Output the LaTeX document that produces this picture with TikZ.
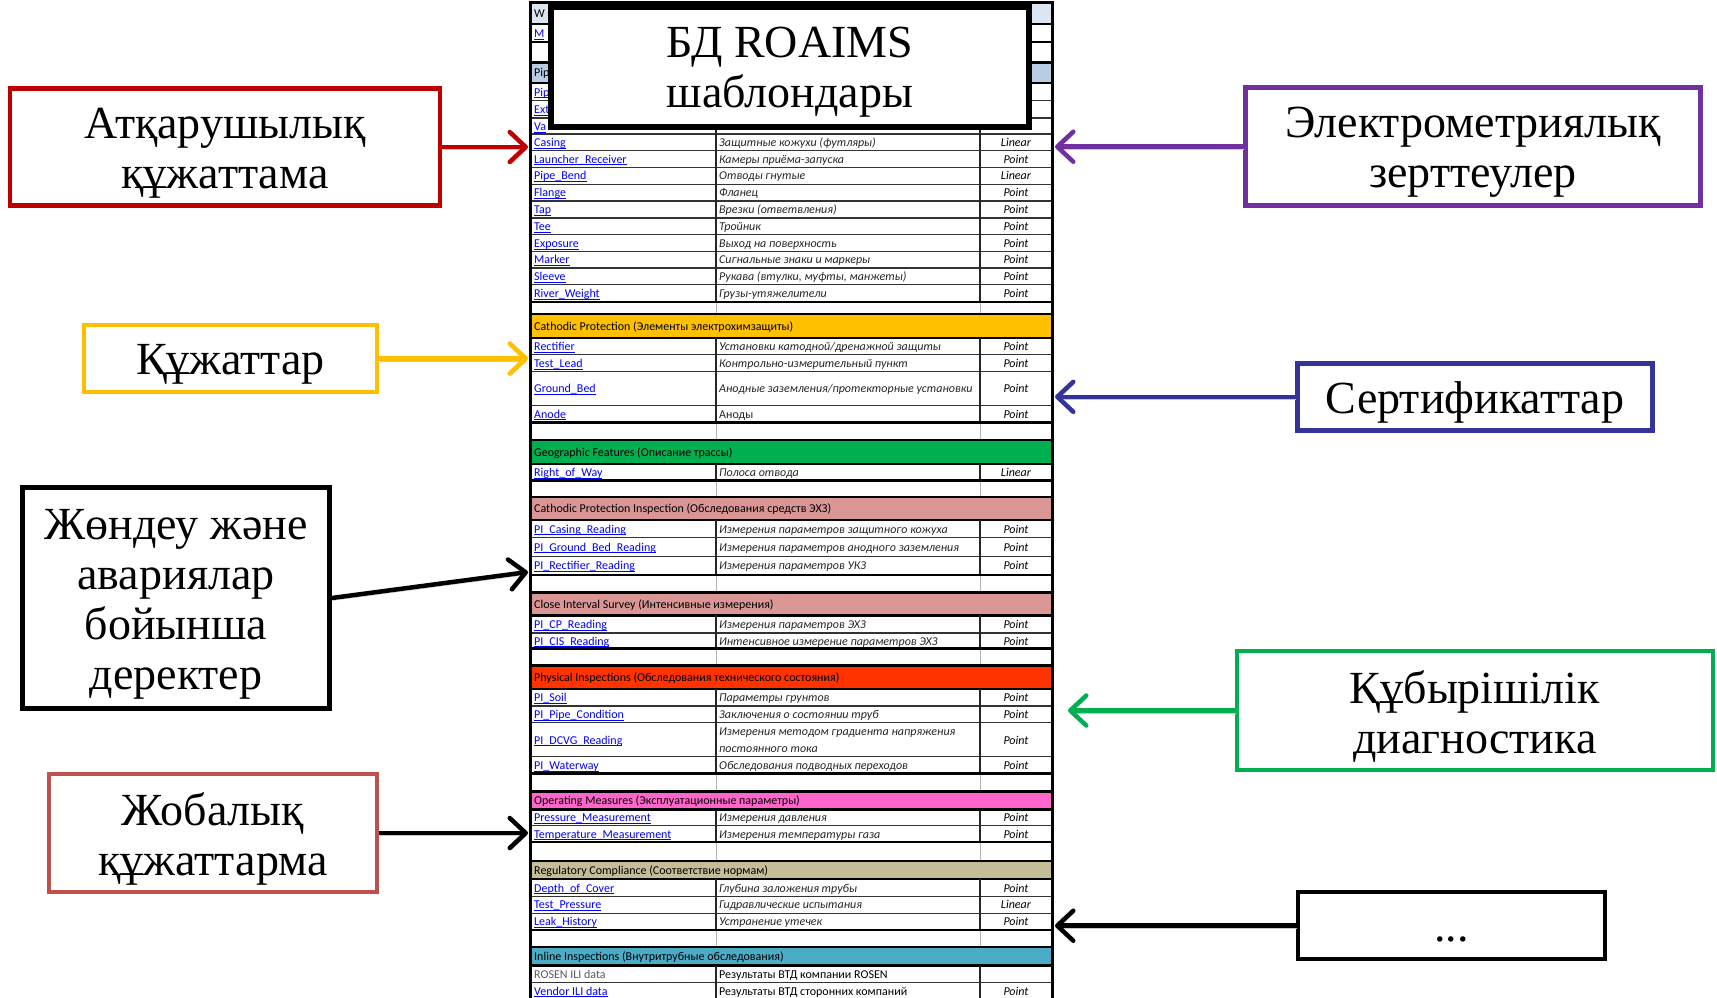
\documentclass[tikz,border=0pt]{standalone}
\usepackage{fontspec}
\setmainfont{Liberation Serif}
\newfontfamily\tabfont{Carlito}
\usetikzlibrary{arrows.meta}
\definecolor{cRed}{HTML}{C00000}
\definecolor{cYel}{HTML}{FFC000}
\definecolor{cIRed}{HTML}{C0504D}
\definecolor{cPur}{HTML}{7030A0}
\definecolor{cNavy}{HTML}{33339A}
\definecolor{cGrn}{HTML}{00B050}
\definecolor{hW}{HTML}{DCE6F1}
\definecolor{hPip}{HTML}{B8CCE4}
\definecolor{hCP}{HTML}{FFC000}
\definecolor{hGeo}{HTML}{00B050}
\definecolor{hPink}{HTML}{DA9694}
\definecolor{hPhys}{HTML}{FF3300}
\definecolor{hOM}{HTML}{FF66CC}
\definecolor{hRC}{HTML}{C4BD97}
\definecolor{hILI}{HTML}{4BACC6}
\definecolor{lnkc}{HTML}{0000FF}
\definecolor{desc}{HTML}{262626}
\newcommand\lnk[1]{\textcolor{lnkc}{\underline{\smash{#1}}}}
\newcommand\ds[1]{\textcolor{desc}{\textit{#1}}}
\newcommand\tp[1]{\textit{#1}}
\newcommand\trow[6]{%
  \draw[rowline] (530,#2) -- (1052,#2);
  \draw[coldiv] (716,#1) -- (716,#2) (980,#1) -- (980,#2);
  \node[cell] (#3a) at (534,{(#1+#2)/2+4.3}) {#4};
  \node[cell] (#3b) at (719,{(#1+#2)/2+4.3}) {#5};
  \node[cell,anchor=base] (#3c) at (1016,{(#1+#2)/2+4.3}) {#6};
}
\newcommand\brow[2]{%
  \draw[blankdiv] (716,#1) -- (716,#2) (980,#1) -- (980,#2);
  \draw[grpline] (530,#1) -- (1052,#1) (530,#2) -- (1052,#2);
}
\newcommand\hrow[5]{%
  \fill[fill=#3] (530,#1) rectangle (1052,#2);
  \draw[grpline] (530,#1) -- (1052,#1) (530,#2) -- (1052,#2);
  \node[cell] (#4) at (534,{(#1+#2)/2+4.3}) {#5};
}
\begin{document}
\begin{tikzpicture}[x=1pt,y=-1pt,
  cell/.style={anchor=base west, inner sep=0pt, font=\tabfont\fontsize{12}{14}\selectfont},
  rowline/.style={line width=1.2pt, black!80},
  coldiv/.style={line width=1.4pt, black!85},
  blankdiv/.style={line width=1pt, black!30},
  grpline/.style={line width=2.2pt, black},
  box/.style={draw, line width=4.5pt, fill=white, inner sep=0pt},
  boxtxt/.style={align=center, inner sep=0pt, font=\fontsize{46}{50}\selectfont, text=black, yshift=-6pt},
  arr/.style={line width=4.5pt, -{Straight Barb[length=16pt,width=30pt,round]},
    preaction={draw=black!22, transform canvas={shift={(1pt,-2.5pt)}}}}]
\useasboundingbox (0,0) rectangle (1717,997);
\fill[white] (0,0) rectangle (1717,997);
% ---------- table ----------
\hrow{2}{24}{hW}{h0}{W}
\trow{24}{42.3}{r0}{\lnk{M}}{}{}
\brow{42.3}{62.5}
\hrow{62.5}{82.8}{hPip}{h1}{Pip}
\trow{82.8}{100.7}{r1}{\lnk{Pip}}{}{}
\trow{100.7}{118}{r2}{\lnk{Ext}}{}{}
\trow{118}{134}{r3}{\lnk{Va}}{}{}
\trow{134}{150.5}{r4}{\lnk{Casing}}{\ds{Защитные кожухи (футляры)}}{\tp{Linear}}
\trow{150.5}{167.2}{r5}{\lnk{Launcher\_Receiver}}{\ds{Камеры приёма-запуска}}{\tp{Point}}
\trow{167.2}{184.1}{r6}{\lnk{Pipe\_Bend}}{\ds{Отводы гнутые}}{\tp{Linear}}
\trow{184.1}{201}{r7}{\lnk{Flange}}{\ds{Фланец}}{\tp{Point}}
\trow{201}{217.9}{r8}{\lnk{Tap}}{\ds{Врезки (ответвления)}}{\tp{Point}}
\trow{217.9}{234.8}{r9}{\lnk{Tee}}{\ds{Тройник}}{\tp{Point}}
\trow{234.8}{251.3}{r10}{\lnk{Exposure}}{\ds{Выход на поверхность}}{\tp{Point}}
\trow{251.3}{268}{r11}{\lnk{Marker}}{\ds{Сигнальные знаки и маркеры}}{\tp{Point}}
\trow{268}{284.8}{r12}{\lnk{Sleeve}}{\ds{Рукава (втулки, муфты, манжеты)}}{\tp{Point}}
\trow{284.8}{301.7}{r13}{\lnk{River\_Weight}}{\ds{Грузы-утяжелители}}{\tp{Point}}
\brow{301.7}{314.2}
\hrow{314.2}{337.9}{hCP}{h2}{Cathodic Protection (Элементы электрохимзащиты)}
\trow{337.9}{354.8}{r14}{\lnk{Rectifier}}{\ds{Установки катодной/дренажной защиты}}{\tp{Point}}
\trow{354.8}{371.7}{r15}{\lnk{Test\_Lead}}{\ds{Контрольно-измерительный пункт}}{\tp{Point}}
\trow{371.7}{405.5}{r16}{\lnk{Ground\_Bed}}{\ds{Анодные заземления/протекторные установки}}{\tp{Point}}
\trow{405.5}{422.4}{r17}{\lnk{Anode}}{\textcolor{desc}{Аноды}}{\tp{Point}}
\brow{422.4}{440.3}
\hrow{440.3}{464}{hGeo}{h3}{Geographic Features (Описание трассы)}
\trow{464}{480.5}{r18}{\lnk{Right\_of\_Way}}{\ds{Полоса отвода}}{\tp{Linear}}
\brow{480.5}{497}
\hrow{497}{520}{hPink}{h4}{Cathodic Protection Inspection (Обследования средств ЭХЗ)}
\trow{520}{537.6}{r19}{\lnk{PI\_Casing\_Reading}}{\ds{Измерения параметров защитного кожуха}}{\tp{Point}}
\trow{537.6}{556.2}{r20}{\lnk{PI\_Ground\_Bed\_Reading}}{\ds{Измерения параметров анодного заземления}}{\tp{Point}}
\trow{556.2}{574.8}{r21}{\lnk{PI\_Rectifier\_Reading}}{\ds{Измерения параметров УКЗ}}{\tp{Point}}
\brow{574.8}{592.4}
\hrow{592.4}{615.4}{hPink}{h5}{Close Interval Survey (Интенсивные измерения)}
\trow{615.4}{633}{r22}{\lnk{PI\_CP\_Reading}}{\ds{Измерения параметров ЭХЗ}}{\tp{Point}}
\trow{633}{648.5}{r23}{\lnk{PI\_CIS\_Reading}}{\ds{Интенсивное измерение параметров ЭХЗ}}{\tp{Point}}
\brow{648.5}{665.4}
\hrow{665.4}{689}{hPhys}{h6}{Physical Inspections (Обследования технического состояния)}
\trow{689}{705.9}{r24}{\lnk{PI\_Soil}}{\ds{Параметры грунтов}}{\tp{Point}}
\trow{705.9}{722.8}{r25}{\lnk{PI\_Pipe\_Condition}}{\ds{Заключения о состоянии труб}}{\tp{Point}}
\trow{722.8}{756.6}{r26}{\lnk{PI\_DCVG\_Reading}}{}{\tp{Point}}
\node[cell] (r26d1) at (719,735) {\ds{Измерения методом градиента напряжения}};
\node[cell] (r26d2) at (719,752) {\ds{постоянного тока}};
\trow{756.6}{773.5}{r27}{\lnk{PI\_Waterway}}{\ds{Обследования подводных переходов}}{\tp{Point}}
\brow{773.5}{791.5}
\hrow{791.5}{809.5}{hOM}{h7}{Operating Measures (Эксплуатационные параметры)}
\trow{809.5}{825.5}{r28}{\lnk{Pressure\_Measurement}}{\ds{Измерения давления}}{\tp{Point}}
\trow{825.5}{842.1}{r29}{\lnk{Temperature\_Measurement}}{\ds{Измерения температуры газа}}{\tp{Point}}
\brow{842.1}{860.7}
\hrow{860.7}{879.3}{hRC}{h8}{Regulatory Compliance (Соответствие нормам)}
\trow{879.3}{896.2}{r30}{\lnk{Depth\_of\_Cover}}{\ds{Глубина заложения трубы}}{\tp{Point}}
\trow{896.2}{913.1}{r31}{\lnk{Test\_Pressure}}{\ds{Гидравлические испытания}}{\tp{Linear}}
\trow{913.1}{930}{r32}{\lnk{Leak\_History}}{\ds{Устранение утечек}}{\tp{Point}}
\brow{930}{946.9}
\hrow{946.9}{965.5}{hILI}{h9}{Inline Inspections (Внутритрубные обследования)}
\trow{965.5}{982.4}{r33}{\textcolor{black!65}{ROSEN ILI data}}{Результаты ВТД компании ROSEN}{}
\trow{982.4}{999}{r34}{\lnk{Vendor ILI data}}{Результаты ВТД сторонних компаний}{\tp{Point}}
\draw[line width=3pt, black] (530,1000) -- (530,2) -- (1052,2) -- (1052,1000);
% ---------- title ----------
\node[box, line width=6pt, minimum width=478, minimum height=120] (title) at (790,67) {};
\node[boxtxt, yshift=1pt] (titleT) at (title.center) {БД ROAIMS\\шаблондары};
% ---------- side boxes ----------
\node[box, draw=cRed, minimum width=430, minimum height=117] (bRed) at (225,147) {};
\node[boxtxt] (tRed) at (bRed.center) {Атқарушылық\\құжаттама};
\node[box, draw=cYel, minimum width=293, minimum height=67] (bYel) at (230.5,358.5) {};
\node[boxtxt] (tYel) at (bYel.center) {Құжаттар};
\node[box, draw=black, minimum width=307, minimum height=221] (bRep) at (176,598) {};
\node[boxtxt] (tRep) at (bRep.center) {Жөндеу және\\авариялар\\бойынша\\деректер};
\node[box, draw=cIRed, minimum width=328, minimum height=118] (bProj) at (213,833) {};
\node[boxtxt] (tProj) at (bProj.center) {Жобалық\\құжаттарма};
\node[box, draw=cPur, minimum width=455, minimum height=118] (bPur) at (1473,146.7) {};
\node[boxtxt] (tPur) at (bPur.center) {Электрометриялық\\зерттеулер};
\node[box, draw=cNavy, minimum width=355, minimum height=67] (bNavy) at (1475,396.8) {};
\node[boxtxt] (tNavy) at (bNavy.center) {Сертификаттар};
\node[box, draw=cGrn, minimum width=476, minimum height=119] (bGrn) at (1475,710.5) {};
\node[boxtxt] (tGrn) at (bGrn.center) {Құбырішілік\\диагностика};
\node[box, draw=black, minimum width=307, minimum height=67] (bDots) at (1451.5,925.7) {};
\node[boxtxt, anchor=base, yshift=-10pt] (tDots) at (bDots.center) {...};
% ---------- arrow ends ----------
\coordinate (eRed) at (528,147);
\coordinate (eYel) at (528,358.5);
\coordinate (eRep) at (528,572);
\coordinate (eProj) at (528,833);
\coordinate (ePur) at (1055,146.7);
\coordinate (eNavy) at (1055,396.8);
\coordinate (eGrn) at (1068,710.5);
\coordinate (eDots) at (1055,925.7);
% ---------- arrows ----------
\draw[arr, cRed] (bRed.east) -- (eRed |- bRed.east);
\draw[arr, cYel] (bYel.east) -- (eYel |- bYel.east);
\draw[arr, black] (bRep.east) -- (eRep);
\draw[arr, black] (bProj.east) -- (eProj |- bProj.east);
\draw[arr, cPur] (bPur.west) -- (ePur |- bPur.west);
\draw[arr, cNavy] (bNavy.west) -- (eNavy |- bNavy.west);
\draw[arr, cGrn] (bGrn.west) -- (eGrn |- bGrn.west);
\draw[arr, black] (bDots.west) -- (eDots |- bDots.west);
\end{tikzpicture}
\end{document}
